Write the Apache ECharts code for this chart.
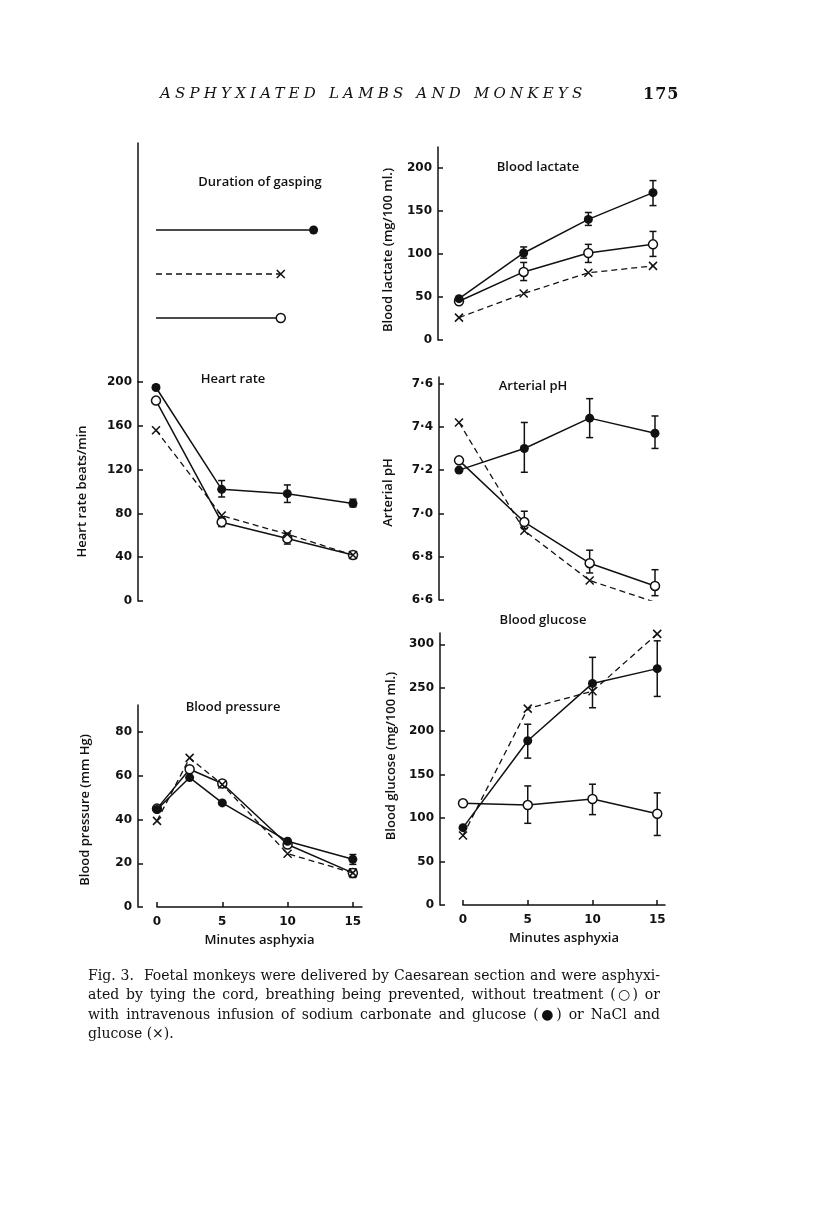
<!DOCTYPE html>
<html><head><meta charset="utf-8">
<script src="https://cdn.jsdelivr.net/npm/echarts@6/dist/echarts.min.js"></script>
<style>
html,body{margin:0;padding:0;background:#fff;}
#wrap{position:relative;width:816px;height:1221px;}
#c{position:absolute;left:0;top:0;width:816px;height:1221px;}
.hdr{position:absolute;top:84px;font-family:"DejaVu Serif",serif;color:#111;white-space:nowrap;}
#h1{left:160px;font-style:italic;font-size:15px;letter-spacing:4.2px;}
#h2{left:643px;font-weight:bold;font-size:16px;letter-spacing:1px;}
#cap{position:absolute;left:88px;top:966px;width:572px;font-family:"DejaVu Serif",serif;font-size:13px;line-height:19.3px;color:#111;}
#cap div{text-align:justify;text-align-last:justify;white-space:nowrap;}
#cap div.last{text-align-last:left;}
</style>
</head><body><div id="wrap"><div id="c"></div>
<div class="hdr" id="h1">ASPHYXIATED LAMBS AND MONKEYS</div>
<div class="hdr" id="h2">175</div>
<div id="cap">
<div>Fig. 3.&nbsp; Foetal monkeys were delivered by Caesarean section and were asphyxi-</div>
<div>ated by tying the cord, breathing being prevented, without treatment (○) or</div>
<div>with intravenous infusion of sodium carbonate and glucose (●) or NaCl and</div>
<div class="last">glucose (×).</div>
</div></div>
<script>
// fit caption font so that the first line naturally fills the measure
(function () {
  const cap = document.getElementById('cap');
  const probe = document.createElement('span');
  probe.style.cssText = 'position:absolute;visibility:hidden;white-space:nowrap;font-family:"DejaVu Serif",serif;';
  probe.innerHTML = cap.children[0].innerHTML;
  document.body.appendChild(probe);
  let fs = 13;
  for (let i = 0; i < 40; i++) {
    probe.style.fontSize = fs + 'px';
    const w = probe.getBoundingClientRect().width;
    if (Math.abs(w - 566) < 1) break;
    fs = fs * 566 / w;
  }
  cap.style.fontSize = fs.toFixed(2) + 'px';
  probe.remove();
})();

// ---------- data ----------
const minutes = [0, 5, 10, 15];
const bpMinutes = [0, 2.5, 5, 10, 15];
const minuteTicks = [0, 5, 10, 15];

const gaspingGroups = ['open', 'cross', 'filled'];
const gaspingMinutes = [9.5, 9.5, 12];

const hrFilled = [195, 102, 98, 89];
const hrOpen = [183, 72, 57, 42];
const hrCross = [156, 78, 61, 42];
const hrFilledErr = [[5, 95, 110], [10, 90, 106], [15, 86, 93]];
const hrOpenErr = [[5, 68, 77], [10, 52, 62], [15, 40, 45]];
const hrTicks = [0, 40, 80, 120, 160, 200];

const lacFilled = [48, 101, 140, 171];
const lacOpen = [45, 79, 101, 111];
const lacCross = [26, 54, 78, 86];
const lacFilledErr = [[5, 95, 108], [10, 133, 148], [15, 156, 185]];
const lacOpenErr = [[5, 69, 90], [10, 90, 111], [15, 97, 126]];
const lacTicks = [0, 50, 100, 150, 200];

const phFilled = [7.20, 7.30, 7.44, 7.37];
const phOpen = [7.245, 6.96, 6.77, 6.665];
const phCross = [7.42, 6.92, 6.69, 6.59];
const phFilledErr = [[5, 7.19, 7.42], [10, 7.35, 7.53], [15, 7.30, 7.45]];
const phOpenErr = [[5, 6.93, 7.01], [10, 6.725, 6.83], [15, 6.62, 6.74]];
const phTicks = [6.6, 6.8, 7.0, 7.2, 7.4, 7.6];

const bpFilled = [44.6, 59.2, 47.6, 30.1, 21.8];
const bpOpen = [45, 63, 56.5, 28.6, 15.6];
const bpCross = [39.4, 68.2, 56, 24.4, 15.6];
const bpFilledErr = [[15, 19.5, 24]];
const bpOpenErr = [[15, 13.5, 17.5]];
const bpTicks = [0, 20, 40, 60, 80];

const gluFilled = [89, 189, 255, 272];
const gluOpen = [117, 115, 122, 105];
const gluCross = [80, 226, 246, 312];
const gluFilledErr = [[5, 169, 208], [10, 227, 285], [15, 240, 304]];
const gluOpenErr = [[5, 94, 137], [10, 104, 139], [15, 80, 129]];
const gluTicks = [0, 50, 100, 150, 200, 250, 300];

// ---------- styling helpers ----------
const INK = '#111';
const crossPath = 'path://M0,0L10,10M10,0L0,10';
const nameFont = {fontFamily: 'Open Sans', fontWeight: 600, fontSize: 13, color: INK};

function lineS(xs, ys, kind, idx) {
  const data = xs.map((x, i) => [x, ys[i]]);
  const base = {type: 'line', xAxisIndex: idx, yAxisIndex: idx, data: data, animation: false,
    silent: true, showAllSymbol: true};
  if (kind === 'filled') return Object.assign(base, {symbol: 'circle', symbolSize: 9, z: 3,
    lineStyle: {color: INK, width: 1.5}, itemStyle: {color: INK}});
  if (kind === 'open') return Object.assign(base, {symbol: 'circle', symbolSize: 9, z: 2,
    lineStyle: {color: INK, width: 1.5}, itemStyle: {color: '#fff', borderColor: INK, borderWidth: 1.5}});
  return Object.assign(base, {symbol: crossPath, symbolSize: 8, z: 4,
    lineStyle: {color: INK, width: 1.3, type: [6, 4]},
    itemStyle: {color: 'transparent', borderColor: INK, borderWidth: 1.5}});
}

function errS(data, idx) {
  return {type: 'custom', xAxisIndex: idx, yAxisIndex: idx, data: data, z: 1, silent: true,
    animation: false, encode: {x: 0, y: [1, 2]},
    renderItem: function (params, api) {
      const x = api.value(0), lo = api.value(1), hi = api.value(2);
      const a = api.coord([x, lo]), b = api.coord([x, hi]);
      const w = 3.5, st = {stroke: INK, lineWidth: 1.5};
      return {type: 'group', children: [
        {type: 'line', shape: {x1: a[0], y1: a[1], x2: b[0], y2: b[1]}, style: st},
        {type: 'line', shape: {x1: a[0] - w, y1: a[1], x2: a[0] + w, y2: a[1]}, style: st},
        {type: 'line', shape: {x1: b[0] - w, y1: b[1], x2: b[0] + w, y2: b[1]}, style: st}
      ]};
    }};
}

function yAx(idx, min, max, ticks, name, offset, nameGap, pad, fmt) {
  return {type: 'value', gridIndex: idx, min: min, max: max, offset: offset,
    splitLine: {show: false},
    axisLine: {show: true, onZero: false, lineStyle: {color: INK, width: 1.5}},
    axisTick: {show: true, inside: true, length: 5, customValues: ticks, lineStyle: {color: INK, width: 1.5}},
    axisLabel: {customValues: ticks, color: INK, fontFamily: 'DejaVu Sans', fontWeight: 'bold',
      fontSize: 12, margin: 6, formatter: fmt},
    name: name, nameLocation: 'middle', nameGap: nameGap, nameRotate: 90,
    nameTextStyle: Object.assign({padding: pad}, nameFont)};
}

function xHidden(idx) {
  return {type: 'value', gridIndex: idx, min: 0, max: 15, show: false};
}
function xShown(idx, max) {
  return {type: 'value', gridIndex: idx, min: 0, max: max, splitLine: {show: false},
    axisLine: {show: true, onZero: false, lineStyle: {color: INK, width: 1.5}},
    axisTick: {show: true, inside: true, length: 5, customValues: minuteTicks, lineStyle: {color: INK, width: 1.5}},
    axisLabel: {customValues: minuteTicks, color: INK, fontFamily: 'DejaVu Sans', fontWeight: 'bold',
      fontSize: 12, margin: 9},
    name: 'Minutes asphyxia', nameLocation: 'middle', nameGap: 27, nameTextStyle: nameFont};
}

const phFmt = v => v.toFixed(1).replace('.', '·');

function titleText(text, x, y) {
  return {type: 'text', x: x, y: y, silent: true,
    style: {text: text, fill: INK, fontFamily: 'Open Sans', fontWeight: 600, fontSize: 13,
      align: 'center', verticalAlign: 'middle', textAlign: 'center', textVerticalAlign: 'middle'}};
}

// ---------- grids ----------
// 0 duration axis line, 1 duration rows, 2 heart rate, 3 lactate, 4 pH, 5 BP, 6 glucose
const grids = [
  {left: 156, top: 143, width: 197, height: 239},
  {left: 156, top: 208, width: 197, height: 132},
  {left: 156, top: 382, width: 197, height: 219},
  {left: 459, top: 147, width: 194, height: 193},
  {left: 459, top: 377, width: 196, height: 223},
  {left: 157, top: 705, width: 205, height: 202},
  {left: 463, top: 633, width: 202, height: 272}
];

const gaspKinds = ['open', 'cross', 'filled'];
const gaspSeries = gaspingGroups.map((g, i) => {
  const s = lineS([0, gaspingMinutes[i]], [g, g], gaspKinds[i], 1);
  s.data[0] = {value: [0, g], symbol: 'none'};
  return s;
});

const option = {
  animation: false,
  backgroundColor: 'transparent',
  grid: grids,
  xAxis: [xHidden(0), xHidden(1), xHidden(2), xHidden(3), xHidden(4), xShown(5, 15.7), xShown(6, 15.6)],
  yAxis: [
    {type: 'value', gridIndex: 0, min: 0, max: 1, offset: 18, splitLine: {show: false},
      axisLine: {show: true, onZero: false, lineStyle: {color: INK, width: 1.5}},
      axisTick: {show: false}, axisLabel: {show: false}},
    {type: 'category', gridIndex: 1, data: gaspingGroups, show: false},
    yAx(2, 0, 200, hrTicks, 'Heart rate beats/min', 18, 49, [0, 0, 0, 0]),
    yAx(3, 0, 224, lacTicks, 'Blood lactate (mg/100 ml.)', 21, 43, [0, 13, 0, 0]),
    yAx(4, 6.6, 7.63, phTicks, 'Arterial pH', 20, 44, [0, 8, 0, 0], phFmt),
    yAx(5, 0, 92.4, bpTicks, 'Blood pressure (mm Hg)', 19, 46, [0, 8, 0, 0]),
    yAx(6, 0, 313, gluTicks, 'Blood glucose (mg/100 ml.)', 23, 42, [0, 0, 0, 26])
  ],
  series: [].concat(
    gaspSeries,
    [errS(hrFilledErr, 2), errS(hrOpenErr, 2),
     lineS(minutes, hrOpen, 'open', 2), lineS(minutes, hrFilled, 'filled', 2), lineS(minutes, hrCross, 'cross', 2)],
    [errS(lacFilledErr, 3), errS(lacOpenErr, 3),
     lineS(minutes, lacOpen, 'open', 3), lineS(minutes, lacFilled, 'filled', 3), lineS(minutes, lacCross, 'cross', 3)],
    [errS(phFilledErr, 4), errS(phOpenErr, 4),
     lineS(minutes, phOpen, 'open', 4), lineS(minutes, phFilled, 'filled', 4), lineS(minutes, phCross, 'cross', 4)],
    [errS(bpFilledErr, 5), errS(bpOpenErr, 5),
     lineS(bpMinutes, bpOpen, 'open', 5), lineS(bpMinutes, bpFilled, 'filled', 5), lineS(bpMinutes, bpCross, 'cross', 5)],
    [errS(gluFilledErr, 6), errS(gluOpenErr, 6),
     lineS(minutes, gluOpen, 'open', 6), lineS(minutes, gluFilled, 'filled', 6), lineS(minutes, gluCross, 'cross', 6)]
  ),
  graphic: [
    titleText('Duration of gasping', 260, 182),
    titleText('Heart rate', 233, 379),
    titleText('Blood lactate', 538, 167),
    titleText('Arterial pH', 533, 386),
    titleText('Blood pressure', 233, 707),
    titleText('Blood glucose', 543, 620)
  ]
};

const chart = echarts.init(document.getElementById('c'), null, {renderer: 'canvas'});
chart.setOption(option);
</script>
</body></html>
